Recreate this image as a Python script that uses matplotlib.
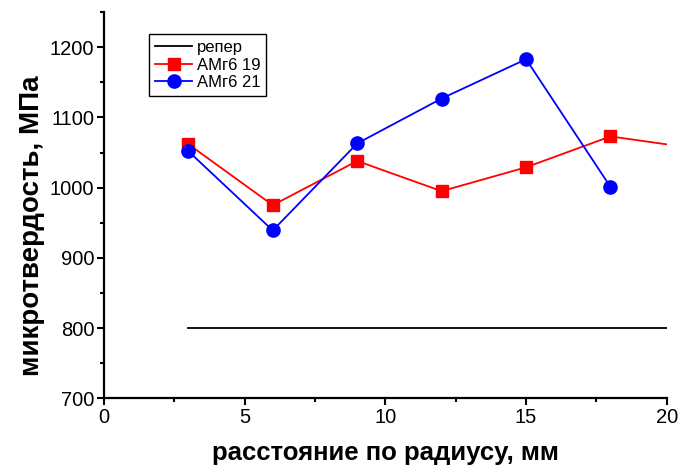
import matplotlib
matplotlib.use('Agg')
import matplotlib.pyplot as plt
from matplotlib.ticker import MultipleLocator

plt.rcParams['font.family'] = ['Liberation Sans', 'DejaVu Sans']

# данные
x_ref = [3, 20]
y_ref = [800, 800]

x_19 = [3, 6, 9, 12, 15, 18, 21]
y_19 = [1062, 975, 1038, 995, 1029, 1073, 1056]

x_21 = [3, 6, 9, 12, 15, 18]
y_21 = [1052, 939, 1063, 1127, 1183, 1001]

fig = plt.figure(figsize=(6.79, 4.69), dpi=100)
ax = fig.add_axes([0.153, 0.151, 0.829, 0.823])

ax.plot(x_ref, y_ref, color='black', linewidth=1.3, label='репер')
ax.plot(x_19, y_19, color='#ff0000', linewidth=1.3, marker='s', markersize=8.5,
        markevery=list(range(6)), label='АМг6 19')
ax.plot(x_21, y_21, color='#0000ff', linewidth=1.3, marker='o', markersize=9.5,
        label='АМг6 21')

ax.set_xlim(0, 20)
ax.set_ylim(700, 1250)
ax.xaxis.set_major_locator(MultipleLocator(5))
ax.xaxis.set_minor_locator(MultipleLocator(2.5))
ax.yaxis.set_minor_locator(MultipleLocator(50))
ax.set_yticks([700, 800, 900, 1000, 1100, 1200])

for s in ['top', 'right']:
    ax.spines[s].set_visible(False)
for s in ['left', 'bottom']:
    ax.spines[s].set_linewidth(1.6)

ax.tick_params(which='major', direction='out', length=5, width=1.5, labelsize=14.5, pad=2)
ax.tick_params(which='minor', direction='out', length=3, width=1.5)

ax.set_xlabel('расстояние по радиусу, мм', fontsize=18.5, fontweight='bold', labelpad=10)
ax.set_ylabel('микротвердость, МПа', fontsize=20, fontweight='bold')
ax.yaxis.set_label_coords(-0.104, 0.448)

leg = ax.legend(loc='upper left', bbox_to_anchor=(0.081, 0.943), fontsize=12,
                frameon=True, fancybox=False, edgecolor='black', framealpha=1,
                borderpad=0.35, labelspacing=0.15, handlelength=2.2, handletextpad=0.3,
                borderaxespad=0)
leg.get_frame().set_linewidth(1.0)

fig.savefig('out.png', dpi=100)
